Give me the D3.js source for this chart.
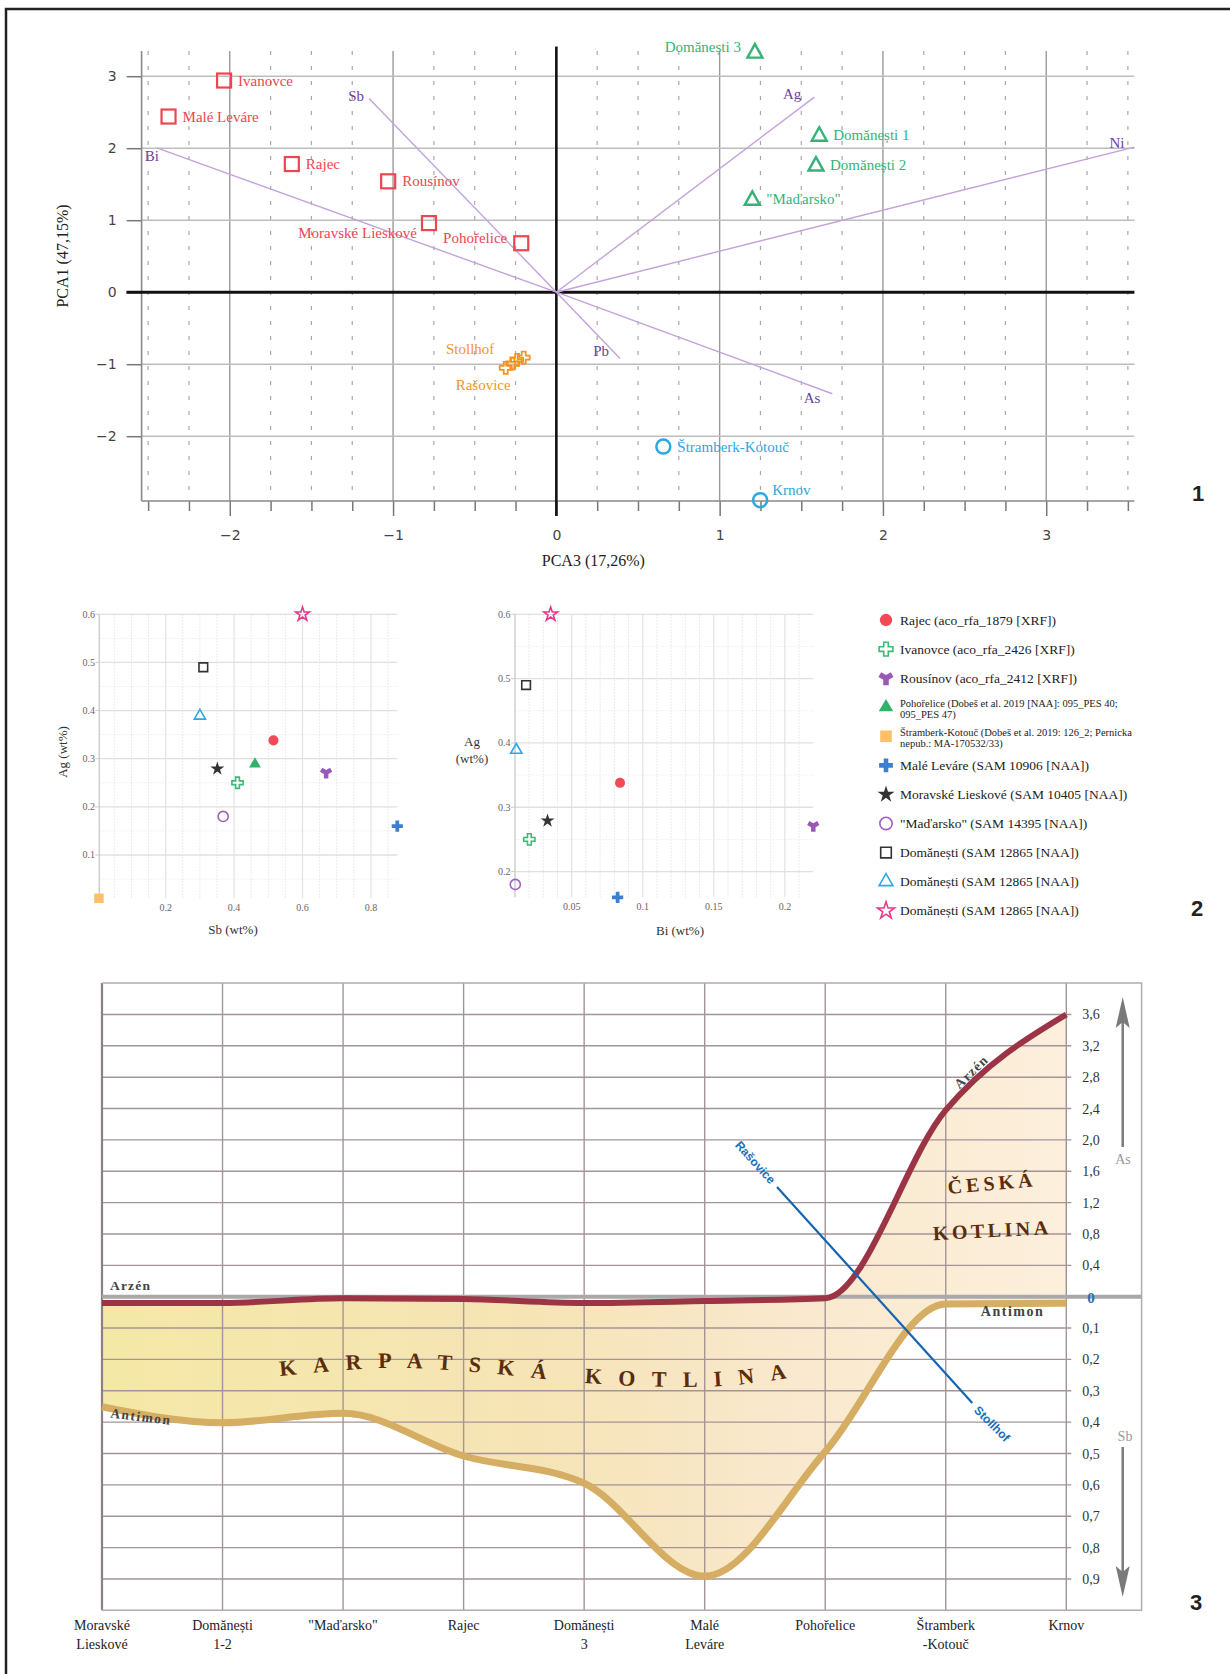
<!DOCTYPE html>
<html><head><meta charset="utf-8">
<script src="https://cdn.jsdelivr.net/npm/d3@7"></script>
<style>body{margin:0;background:#fff}svg{display:block}</style>
</head><body>
<svg id="c" width="1230" height="1674"></svg>
<script>
// ================= DATA =================
// Panel 1 – PCA biplot (PCA3 on x, PCA1 on y)
const pcaSamples = [
  {name:"Ivanovce", group:"sq", pca3:-2.035, pca1:2.94, lab:"r"},
  {name:"Malé Leváre", group:"sq", pca3:-2.375, pca1:2.44, lab:"r"},
  {name:"Rajec", group:"sq", pca3:-1.62, pca1:1.78, lab:"r"},
  {name:"Rousínov", group:"sq", pca3:-1.03, pca1:1.54, lab:"r"},
  {name:"Moravské Lieskové", group:"sq", pca3:-0.78, pca1:0.96, lab:"lb"},
  {name:"Pohořelice", group:"sq", pca3:-0.215, pca1:0.68, lab:"lu"},
  {name:"Domănești 3", group:"tri", pca3:1.216, pca1:3.335, lab:"lu"},
  {name:"Domănești 1", group:"tri", pca3:1.61, pca1:2.18, lab:"r"},
  {name:"Domănești 2", group:"tri", pca3:1.59, pca1:1.766, lab:"r"},
  {name:"\"Maďarsko\"", group:"tri", pca3:1.20, pca1:1.29, lab:"r"},
  {name:"Štramberk-Kotouč", group:"circ", pca3:0.655, pca1:-2.144, lab:"r"},
  {name:"Krnov", group:"circ", pca3:1.248, pca1:-2.888, lab:"ra"}
];
const pcaCrossPoints = [[-0.31,-1.05],[-0.27,-0.99],[-0.24,-0.94],[-0.20,-0.91]];
const pcaCrossLabels = [
  {name:"Stollhof", pca3:-0.38, pca1:-0.86},
  {name:"Rašovice", pca3:-0.28, pca1:-1.36}
];
const loadings = [
  {el:"Bi", pca3:-2.447, pca1:2.005},
  {el:"Sb", pca3:-1.147, pca1:2.69},
  {el:"Ag", pca3:1.58, pca1:2.71},
  {el:"Ni", pca3:3.54, pca1:2.015},
  {el:"Pb", pca3:0.39, pca1:-0.92},
  {el:"As", pca3:1.69, pca1:-1.41}
];
const pcaXTicks = [-2,-1,0,1,2,3];
const pcaYTicks = [-2,-1,0,1,2,3];

// Panel 2 – scatter plots
const sampleKeys = ["rajec","ivanovce","rousinov","pohorelice","stramberk","maleLevare","moravske","madarsko","domSq","domTri","domStar"];
const legendLabels = [
  ["Rajec (aco_rfa_1879 [XRF])"],
  ["Ivanovce (aco_rfa_2426 [XRF])"],
  ["Rousínov (aco_rfa_2412 [XRF])"],
  ["Pohořelice (Dobeš et al. 2019 [NAA]: 095_PES 40;","095_PES 47)"],
  ["Štramberk-Kotouč (Dobeš et al. 2019: 126_2; Pernicka","nepub.: MA-170532/33)"],
  ["Malé Leváre (SAM 10906 [NAA])"],
  ["Moravské Lieskové (SAM 10405 [NAA])"],
  ["\"Maďarsko\" (SAM 14395 [NAA])"],
  ["Domănești (SAM 12865 [NAA])"],
  ["Domănești (SAM 12865 [NAA])"],
  ["Domănești (SAM 12865 [NAA])"]
];
const sbValues = [0.515,0.41,0.669,0.461,0.005,0.877,0.351,0.368,0.31,0.30,0.60];
const biValues = [0.084,0.0202,0.22,null,null,0.0823,0.033,0.0103,0.0179,0.011,0.0352];
const agValues = [0.338,0.25,0.271,0.289,0.01,0.16,0.279,0.18,0.49,0.389,0.60];
const sbTicks = [0.2,0.4,0.6,0.8];
const agTicksLeft = [0.1,0.2,0.3,0.4,0.5,0.6];
const biTicks = [0.05,0.1,0.15,0.2];
const agTicksRight = [0.2,0.3,0.4,0.5,0.6];

// Panel 3 – As / Sb profile
const sites = ["Moravské\nLieskové","Domănești\n1-2","\"Maďarsko\"","Rajec","Domănești\n3","Malé\nLeváre","Pohořelice","Štramberk\n-Kotouč","Krnov"];
const arsenic = [-0.08,-0.08,-0.02,-0.03,-0.08,-0.055,-0.02,2.38,3.6];
const antimony = [0.351,0.402,0.372,0.508,0.595,0.891,0.494,0.023,0.021];
const asTicks = [0.4,0.8,1.2,1.6,2.0,2.4,2.8,3.2,3.6];
const sbProfileTicks = [0.1,0.2,0.3,0.4,0.5,0.6,0.7,0.8,0.9];

// ================= DRAW =================
const SERIF = "'Liberation Serif','DejaVu Serif',serif";
const SANS = "'DejaVu Sans',sans-serif";
const svg = d3.select("#c");
svg.append("rect").attr("width",1230).attr("height",1674).attr("fill","#fff");
svg.append("path").attr("d","M6,1674V9H1230").attr("fill","none").attr("stroke","#222").attr("stroke-width",2.5);

// ---------- Panel 1 ----------
(function(){
  const g = svg.append("g");
  const x = d3.scaleLinear().domain([-2.54,3.54]).range([141.6,1134.4]);
  const y = d3.scaleLinear().domain([-2.9,3.35]).range([501,51]);
  const [xl,xr] = x.range(), [yb,yt] = y.range();
  const minor = d3.range(-10,15).map(i=>i*0.25).filter(v=>v>-2.54&&v<3.54&&Math.abs(v-Math.round(v))>1e-6);
  const major = pcaXTicks.filter(v=>v!==0);
  g.selectAll(".mn").data(minor).join("line").attr("x1",x).attr("x2",x).attr("y1",yt).attr("y2",yb)
    .attr("stroke","#a8a8a8").attr("stroke-width",1.2).attr("stroke-dasharray","4,11");
  g.selectAll(".mjv").data(major).join("line").attr("x1",x).attr("x2",x).attr("y1",yt).attr("y2",yb)
    .attr("stroke","#9a9a9a").attr("stroke-width",1.4);
  g.selectAll(".mjh").data(pcaYTicks.filter(v=>v!==0)).join("line").attr("x1",xl).attr("x2",xr).attr("y1",y).attr("y2",y)
    .attr("stroke","#bdbdbd").attr("stroke-width",1.6);
  // axes
  const intFmt = d3.format("d");
  g.append("g").attr("transform",`translate(${xl},0)`)
    .call(d3.axisLeft(y).tickValues(pcaYTicks).tickFormat(intFmt).tickSize(15).tickPadding(10));
  g.append("g").attr("transform",`translate(0,${yb})`)
    .call(d3.axisBottom(x).tickValues(pcaXTicks).tickFormat(intFmt).tickSize(15).tickPadding(14));
  g.append("g").attr("transform",`translate(0,${yb})`)
    .call(d3.axisBottom(x).tickValues(minor).tickSize(10).tickFormat(""));
  g.selectAll(".domain").remove();
  g.selectAll(".tick line").attr("stroke","#777").attr("stroke-width",1.5);
  g.selectAll(".tick text").attr("font-family",SANS).attr("font-size",14).attr("fill","#444");
  g.append("line").attr("x1",xl).attr("x2",xl).attr("y1",yt).attr("y2",yb).attr("stroke","#888").attr("stroke-width",1.6);
  g.append("line").attr("x1",xl).attr("x2",xr).attr("y1",yb).attr("y2",yb).attr("stroke","#888").attr("stroke-width",1.6);
  // zero lines
  g.append("line").attr("x1",126.5).attr("x2",xr).attr("y1",y(0)).attr("y2",y(0)).attr("stroke","#111").attr("stroke-width",3);
  g.append("line").attr("x1",x(0)).attr("x2",x(0)).attr("y1",46.5).attr("y2",yb+15).attr("stroke","#111").attr("stroke-width",2.6);
  // axis titles
  g.append("text").attr("transform","translate(68,256) rotate(-90)").attr("text-anchor","middle")
    .attr("font-family",SERIF).attr("font-size",16).attr("fill","#222").text("PCA1  (47,15%)");
  g.append("text").attr("x",x(0)+37).attr("y",566).attr("text-anchor","middle")
    .attr("font-family",SERIF).attr("font-size",16).attr("fill","#222").text("PCA3  (17,26%)");
  // loadings
  const lo = {Bi:[-12,13,"start"],Sb:[-5,2,"end"],Ag:[-13,2,"end"],Ni:[-10,1,"end"],Pb:[-11,-2,"end"],As:[-12,9,"end"]};
  g.selectAll(".ld").data(loadings).join("line").attr("x1",x(0)).attr("y1",y(0))
    .attr("x2",d=>x(d.pca3)).attr("y2",d=>y(d.pca1)).attr("stroke","#c4a3dc").attr("stroke-width",1.4);
  g.selectAll(".ldt").data(loadings).join("text").attr("x",d=>x(d.pca3)+lo[d.el][0]).attr("y",d=>y(d.pca1)+lo[d.el][1])
    .attr("text-anchor",d=>lo[d.el][2]).attr("font-family",SERIF).attr("font-size",15).attr("fill","#6b3fa0").text(d=>d.el);
  // markers
  const col = {sq:"#ec4650",tri:"#33b476",circ:"#2aa8e0"};
  const m = g.selectAll(".pt").data(pcaSamples).join("g").attr("transform",d=>`translate(${x(d.pca3)},${y(d.pca1)})`);
  m.filter(d=>d.group==="sq").append("rect").attr("x",-7).attr("y",-7).attr("width",14).attr("height",14)
    .attr("fill","none").attr("stroke",col.sq).attr("stroke-width",2.2);
  m.filter(d=>d.group==="tri").append("path").attr("d","M0,-8L7.5,5.5L-7.5,5.5Z")
    .attr("fill","none").attr("stroke",col.tri).attr("stroke-width",2.4);
  m.filter(d=>d.group==="circ").append("circle").attr("r",7).attr("fill","none").attr("stroke",col.circ).attr("stroke-width",2.5);
  const off = {r:[14,5,"start"],l:[-14,5,"end"],lu:[-14,0,"end"],lb:[-12,15,"end"],ra:[12,-5,"start"]};
  m.append("text").attr("x",d=>off[d.lab][0]).attr("y",d=>off[d.lab][1]).attr("text-anchor",d=>off[d.lab][2])
    .attr("font-family",SERIF).attr("font-size",15).attr("fill",d=>col[d.group]).text(d=>d.name);
  const crossPath = "M-2,-6H2V-2H6V2H2V6H-2V2H-6V-2H-2Z";
  g.selectAll(".cr").data(pcaCrossPoints).join("path").attr("d",crossPath)
    .attr("transform",d=>`translate(${x(d[0])},${y(d[1])})`).attr("fill","none").attr("stroke","#f7941d").attr("stroke-width",1.8);
  g.selectAll(".crt").data(pcaCrossLabels).join("text").attr("x",d=>x(d.pca3)).attr("y",d=>y(d.pca1))
    .attr("text-anchor","end").attr("font-family",SERIF).attr("font-size",15).attr("fill","#f7941d").text(d=>d.name);
  svg.append("text").attr("x",1198).attr("y",501).attr("text-anchor","middle").attr("font-family","'Liberation Sans',Arial,sans-serif")
    .attr("font-weight","bold").attr("font-size",22).attr("fill","#222").text("1");
})();

// ---------- Panel 2 ----------
const symStyle = {
  rajec:{t:d3.symbolCircle,f:"#ef4a55",s:"none",a:80},
  ivanovce:{t:d3.symbolCross,f:"#fff",s:"#3dba73",a:70},
  rousinov:{t:d3.symbolWye,f:"#9b59b6",s:"none",a:70},
  pohorelice:{t:d3.symbolTriangle,f:"#2fb36b",s:"none",a:60},
  stramberk:{t:d3.symbolSquare,f:"#fcc06a",s:"none",a:90},
  maleLevare:{t:d3.symbolCross,f:"#3c7fd0",s:"none",a:70},
  moravske:{t:d3.symbolStar,f:"#333",s:"none",a:60},
  madarsko:{t:d3.symbolCircle,f:"none",s:"#a15dc0",a:80},
  domSq:{t:d3.symbolSquare,f:"none",s:"#333",a:75},
  domTri:{t:d3.symbolTriangle,f:"none",s:"#2aa9e6",a:55},
  domStar:{t:d3.symbolStar,f:"none",s:"#e8398a",a:60}
};
function drawSym(sel, key, scale){
  const st = symStyle[key];
  sel.append("path").attr("d",d3.symbol().type(st.t).size(st.a*scale)())
    .attr("fill",st.f).attr("stroke",st.s).attr("stroke-width",1.6);
}
function scatter(xs, ys, xVals, xTicks, yTicks, xMinor, yMinor, labelEnd){
  const g = svg.append("g");
  const [xl,xr]=xs.range(), [yb,yt]=ys.range();
  g.selectAll(".xm").data(xMinor).join("line").attr("x1",xs).attr("x2",xs).attr("y1",yt).attr("y2",yb)
    .attr("stroke","#e4e4e4").attr("stroke-width",1).attr("stroke-dasharray","1.5,1.5");
  g.selectAll(".ym").data(yMinor).join("line").attr("y1",ys).attr("y2",ys).attr("x1",xl).attr("x2",xr)
    .attr("stroke","#eeeeee").attr("stroke-width",1).attr("stroke-dasharray","1.5,1.5");
  g.selectAll(".xg").data(xTicks).join("line").attr("x1",xs).attr("x2",xs).attr("y1",yt).attr("y2",yb)
    .attr("stroke","#e3e3e3").attr("stroke-width",1.2);
  g.selectAll(".yg").data(yTicks).join("line").attr("y1",ys).attr("y2",ys).attr("x1",xl).attr("x2",xr)
    .attr("stroke","#e0e0e0").attr("stroke-width",1.3);
  g.append("line").attr("x1",xl).attr("x2",xl).attr("y1",yt).attr("y2",yb).attr("stroke","#cfcfcf").attr("stroke-width",1.5);
  g.selectAll(".yt").data(yTicks).join("line").attr("x1",xl-4).attr("x2",xl).attr("y1",ys).attr("y2",ys).attr("stroke","#ccc");
  g.selectAll(".ytl").data(yTicks).join("text").attr("x",labelEnd).attr("y",d=>ys(d)+3.5).attr("text-anchor","end")
    .attr("font-family",SERIF).attr("font-size",10).attr("fill","#666").text(d=>d);
  g.selectAll(".xtl").data(xTicks).join("text").attr("x",xs).attr("y",yb+13).attr("text-anchor","middle")
    .attr("font-family",SERIF).attr("font-size",10).attr("fill","#666").text(d=>d);
  sampleKeys.forEach((k,i)=>{
    const xv = xVals[i]; if(xv==null) return;
    const p = g.append("g").attr("transform",`translate(${xs(xv)},${ys(agValues[i])})`);
    drawSym(p,k,1);
  });
  return g;
}
(function(){
  const xs = d3.scaleLinear().domain([0.006,0.877]).range([99.3,397.3]);
  const ys = d3.scaleLinear().domain([0.01,0.6]).range([898.3,614.3]);
  scatter(xs, ys, sbValues, sbTicks, agTicksLeft,
    d3.range(1,18).map(i=>i*0.05).filter(v=>Math.abs(v*5-Math.round(v*5))>1e-6),
    [0.05,0.15,0.25,0.35,0.45,0.55], 95);
  svg.append("text").attr("transform","translate(67,752) rotate(-90)").attr("text-anchor","middle")
    .attr("font-family",SERIF).attr("font-size",13).attr("fill","#333").text("Ag  (wt%)");
  svg.append("text").attr("x",233).attr("y",934).attr("text-anchor","middle")
    .attr("font-family",SERIF).attr("font-size",13).attr("fill","#333").text("Sb  (wt%)");
})();
(function(){
  const xs = d3.scaleLinear().domain([0.0101,0.22]).range([515,813.3]);
  const ys = d3.scaleLinear().domain([0.16,0.6]).range([897.3,614.3]);
  scatter(xs, ys, biValues, biTicks, agTicksRight,
    d3.range(2,22).map(i=>i*0.01).filter(v=>Math.abs(v*20-Math.round(v*20))>1e-6),
    [0.25,0.35,0.45,0.55], 510.5);
  svg.append("text").attr("x",472).attr("y",746).attr("text-anchor","middle")
    .attr("font-family",SERIF).attr("font-size",13).attr("fill","#333").text("Ag");
  svg.append("text").attr("x",472).attr("y",763).attr("text-anchor","middle")
    .attr("font-family",SERIF).attr("font-size",13).attr("fill","#333").text("(wt%)");
  svg.append("text").attr("x",680).attr("y",935).attr("text-anchor","middle")
    .attr("font-family",SERIF).attr("font-size",13).attr("fill","#333").text("Bi  (wt%)");
})();
(function(){
  const g = svg.append("g");
  sampleKeys.forEach((k,i)=>{
    const yy = 620 + i*29.07;
    drawSym(g.append("g").attr("transform",`translate(886,${yy})`),k,1.5);
    const lines = legendLabels[i];
    if(lines.length===1){
      g.append("text").attr("x",900).attr("y",yy+4.5).attr("font-family",SERIF).attr("font-size",13.5).attr("fill","#222").text(lines[0]);
    } else {
      lines.forEach((t,j)=>g.append("text").attr("x",900).attr("y",yy-0.5+j*11.7).attr("font-family",SERIF)
        .attr("font-size",10.5).attr("fill","#222").text(t));
    }
  });
  svg.append("text").attr("x",1197).attr("y",916).attr("text-anchor","middle").attr("font-family","'Liberation Sans',Arial,sans-serif")
    .attr("font-weight","bold").attr("font-size",22).attr("fill","#222").text("2");
})();

// ---------- Panel 3 ----------
(function(){
  const g = svg.append("g");
  const x = d3.scalePoint().domain(sites).range([102,1066.3]);
  const xi = d3.scaleLinear().domain([0,sites.length-1]).range(x.range());
  const yAs = d3.scaleLinear().domain([0,4]).range([1296.7,983.1]);
  const ySb = d3.scaleLinear().domain([0,1]).range([1296.7,1610.3]);
  const L = 102, R = 1066.3, RB = 1141.6, T = yAs(4), B = ySb(1);
  const defs = svg.append("defs");
  const gr = defs.append("linearGradient").attr("id","fillg").attr("gradientUnits","userSpaceOnUse")
    .attr("x1",L).attr("x2",R).attr("y1",0).attr("y2",0);
  [[0,"#f4e8a6"],[0.45,"#f6e4b6"],[0.7,"#f9e8cc"],[1,"#fcefdc"]].forEach(s=>gr.append("stop").attr("offset",s[0]).attr("stop-color",s[1]));
  const pts = sites.map((s,i)=>({x:x(s), a:yAs(arsenic[i]), b:ySb(antimony[i])}));
  g.append("path").datum(pts).attr("d",d3.area().x(d=>d.x).y0(d=>d.b).y1(d=>d.a).curve(d3.curveMonotoneX)).attr("fill","url(#fillg)");
  const gc = "#a39496";
  const hl = asTicks.map(yAs).concat(sbProfileTicks.map(ySb));
  g.selectAll(".hl").data(hl).join("line").attr("x1",L).attr("x2",R+5).attr("y1",d=>d).attr("y2",d=>d).attr("stroke",gc).attr("stroke-width",1.4);
  g.selectAll(".vl").data(sites).join("line").attr("x1",x).attr("x2",x).attr("y1",T).attr("y2",B).attr("stroke",gc).attr("stroke-width",1.4);
  g.append("line").attr("x1",L).attr("x2",L).attr("y1",T).attr("y2",B).attr("stroke","#8d8082").attr("stroke-width",2.2);
  g.append("path").attr("d",`M${L},${T}H${RB}V${B}H${L}`).attr("fill","none").attr("stroke","#b3abac").attr("stroke-width",1.5);
  g.append("line").attr("x1",L).attr("x2",RB).attr("y1",yAs(0)).attr("y2",yAs(0)).attr("stroke","#a9a9a9").attr("stroke-width",4);
  // curves
  g.append("path").datum(pts).attr("d",d3.line().x(d=>d.x).y(d=>d.b).curve(d3.curveMonotoneX))
    .attr("fill","none").attr("stroke","#d5ad63").attr("stroke-width",7);
  g.append("path").datum(pts).attr("d",d3.line().x(d=>d.x).y(d=>d.a).curve(d3.curveMonotoneX))
    .attr("fill","none").attr("stroke","#9b3545").attr("stroke-width",6);
  // tick labels
  const fmt = v=>d3.format(".1f")(v).replace(".",",");
  g.selectAll(".ast").data(asTicks).join("text").attr("x",1091).attr("y",d=>yAs(d)+5).attr("text-anchor","middle")
    .attr("font-family",SERIF).attr("font-size",14).attr("fill","#333").text(fmt);
  g.selectAll(".sbt").data(sbProfileTicks).join("text").attr("x",1091).attr("y",d=>ySb(d)+5).attr("text-anchor","middle")
    .attr("font-family",SERIF).attr("font-size",14).attr("fill","#333").text(fmt);
  g.append("text").attr("x",1091).attr("y",yAs(0)+6).attr("text-anchor","middle").attr("font-family",SERIF)
    .attr("font-weight","bold").attr("font-size",15).attr("fill","#1f6fb8").text("0");
  // category labels
  sites.forEach(s=>{
    const lines = s.split("\n");
    lines.forEach((t,j)=>g.append("text").attr("x",x(s)).attr("y",1630+j*19).attr("text-anchor","middle")
      .attr("font-family",SERIF).attr("font-size",14).attr("fill","#222").text(t));
  });
  // arrows
  const arrow = (x0,y0,y1)=>{
    const dir = Math.sign(y1-y0);
    g.append("line").attr("x1",x0).attr("x2",x0).attr("y1",y0).attr("y2",y1-dir*20).attr("stroke","#7a7a7a").attr("stroke-width",2.5);
    g.append("path").attr("d",`M${x0},${y1}L${x0-7},${y1-dir*31}L${x0},${y1-dir*25}L${x0+7},${y1-dir*31}Z`).attr("fill","#7a7a7a");
  };
  arrow(1122.7,1147,997);
  arrow(1122.7,1447,1597);
  g.append("text").attr("x",1123).attr("y",1164).attr("text-anchor","middle").attr("font-family",SERIF).attr("font-size",14).attr("fill","#999").text("As");
  g.append("text").attr("x",1125).attr("y",1441).attr("text-anchor","middle").attr("font-family",SERIF).attr("font-size",14).attr("fill","#999").text("Sb");
  // blue dividing line
  const bx0 = xi(5.6), by0 = yAs(1.40), bx1 = xi(7.22), by1 = ySb(0.339);
  const ang = Math.atan2(by1-by0,bx1-bx0)*180/Math.PI;
  g.append("line").attr("x1",bx0).attr("y1",by0).attr("x2",bx1).attr("y2",by1).attr("stroke","#1565b0").attr("stroke-width",2.2);
  g.append("text").attr("transform",`translate(${bx0-4},${by0-5}) rotate(${ang})`).attr("text-anchor","end").attr("dy","0.35em")
    .attr("font-family","'Liberation Sans',Arial,sans-serif").attr("font-weight","bold").attr("font-size",12).attr("fill","#1a6fba").text("Rašovice");
  g.append("text").attr("transform",`translate(${bx1+4},${by1+5}) rotate(${ang-3})`).attr("text-anchor","start").attr("dy","0.35em")
    .attr("font-family","'Liberation Sans',Arial,sans-serif").attr("font-weight","bold").attr("font-size",12).attr("fill","#1a6fba").text("Stollhof");
  // labels
  const lab = (t,tx,ty,rot,size,anchor,ls,fill)=>g.append("text").attr("transform",`translate(${tx},${ty}) rotate(${rot})`)
    .attr("text-anchor",anchor).attr("font-family",SERIF).attr("font-weight","bold").attr("font-size",size)
    .attr("letter-spacing",ls).attr("fill",fill).text(t);
  lab("Arzén", xi(0.066), yAs(0.085), 0, 13.5, "start", 1.2, "#444");
  lab("Antimon", xi(0.066), ySb(0.385), 7, 13.5, "start", 1.5, "#444");
  lab("Antimon", xi(7.554), ySb(0.06), 0, 14, "middle", 1.5, "#444");
  lab("Arzén", xi(7.237), yAs(2.89)+5, -44, 13.5, "middle", 1.2, "#444");
  lab("ČESKÁ", xi(7.388), yAs(1.36), -5, 20, "middle", 4, "#5a2d0c");
  lab("KOTLINA", xi(7.388), yAs(0.76), -3, 20, "middle", 3.5, "#5a2d0c");
  const kp = [[1.477,0.253],[2.339,0.221],[2.862,0.233],[3.377,0.249],[4.065,0.281],[4.878,0.291],[5.351,0.281],[5.79,0.253]];
  defs.append("path").attr("id","karp").attr("d",d3.line().x(d=>xi(d[0])).y(d=>ySb(d[1])).curve(d3.curveBasis)(kp));
  g.append("text").attr("font-family",SERIF).attr("font-weight","bold").attr("font-size",22).attr("letter-spacing",16.5)
    .attr("fill","#5a2d0c").append("textPath").attr("href","#karp").text("KARPATSKÁ KOTLINA");
  svg.append("text").attr("x",1196).attr("y",1610).attr("text-anchor","middle").attr("font-family","'Liberation Sans',Arial,sans-serif")
    .attr("font-weight","bold").attr("font-size",22).attr("fill","#222").text("3");
})();
</script>
</body></html>
